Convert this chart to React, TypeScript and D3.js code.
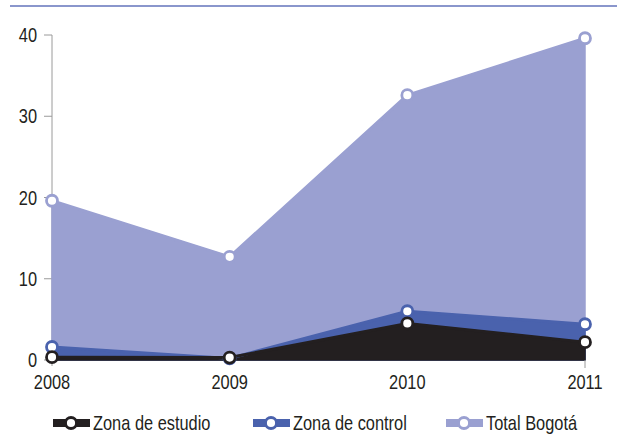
import React from "react";
import * as d3 from "d3";

const years = [2008, 2009, 2010, 2011];
const estudio = [0.35, 0.3, 4.5, 2.2];
const control = [1.6, 0.2, 6.0, 4.4];
const total = [19.6, 12.7, 32.6, 39.6];
const yTicks = [0, 10, 20, 30, 40];
const seriesNames = ["Zona de estudio", "Zona de control", "Total Bogotá"];
const colors = ["#231f20", "#4a62ad", "#9aa0d1"];

const W = 617, H = 445;
const FONT = "'Liberation Sans', Arial, sans-serif";
const SX = 0.82;

function NText({ x, y, anchor = "start", size = 20, children }: any) {
  return (
    <text
      transform={`translate(${x},${y}) scale(${SX},1)`}
      textAnchor={anchor}
      fontFamily={FONT}
      fontSize={size}
      fill="#231f20"
    >
      {children}
    </text>
  );
}

export default function App() {
  const x = d3.scaleLinear().domain([2008, 2011]).range([52, 585]);
  const y = d3.scaleLinear().domain([0, 40]).range([360, 35]);
  const area = d3.area<number>()
    .x((_, i) => x(years[i]))
    .y0(y(0))
    .y1((d) => y(d));
  const line = d3.line<number>().x((_, i) => x(years[i])).y((d) => y(d));
  const series = [total, control, estudio];
  const sColors = [colors[2], colors[1], colors[0]];
  const legendX = [53, 253, 446];
  const legendY = 423;
  return (
    <svg width={W} height={H} style={{ position: "absolute", left: 0, top: 0 }}>
      <rect width={W} height={H} fill="#fff" />
      <line x1={10} x2={617} y1={6} y2={6} stroke="#8a96cc" strokeWidth={2} />
      {/* y axis */}
      <line x1={x(2008)} x2={x(2008)} y1={y(40)} y2={y(0) + 6} stroke="#9a9a9a" strokeWidth={1} />
      {yTicks.map((t) => (
        <g key={t}>
          <line x1={x(2008) - 8} x2={x(2008)} y1={y(t)} y2={y(t)} stroke="#9a9a9a" />
          <NText x={x(2008) - 15} y={y(t) + 7} anchor="end">{t}</NText>
        </g>
      ))}
      {series.map((s, i) => (
        <path key={i} d={area(s) || ""} fill={sColors[i]} stroke={sColors[i]} strokeWidth={1.5} strokeLinejoin="round" />
      ))}
      {series.map((s, i) => (
        <path key={"l" + i} d={line(s) || ""} fill="none" stroke={sColors[i]} strokeWidth={3} strokeLinejoin="round" />
      ))}
      {/* x axis tick at 2011 */}
      <line x1={x(2011)} x2={x(2011)} y1={y(0)} y2={y(0) + 8} stroke="#9a9a9a" />
      {series.map((s, i) =>
        s.map((v, j) => (
          <circle key={i + "-" + j} cx={x(years[j])} cy={y(v)} r={5.5} fill="#fff" stroke={sColors[i]} strokeWidth={2.8} />
        ))
      )}
      {years.map((yr) => (
        <NText key={yr} x={x(yr)} y={389} anchor="middle">{yr}</NText>
      ))}
      {seriesNames.map((n, i) => (
        <g key={n}>
          <rect x={legendX[i]} y={legendY - 4} width={37} height={8} fill={colors[i]} />
          <circle cx={legendX[i] + 18} cy={legendY} r={5.5} fill="#fff" stroke={colors[i]} strokeWidth={2.8} />
          <NText x={legendX[i] + 40} y={legendY + 7}>{n}</NText>
        </g>
      ))}
    </svg>
  );
}
